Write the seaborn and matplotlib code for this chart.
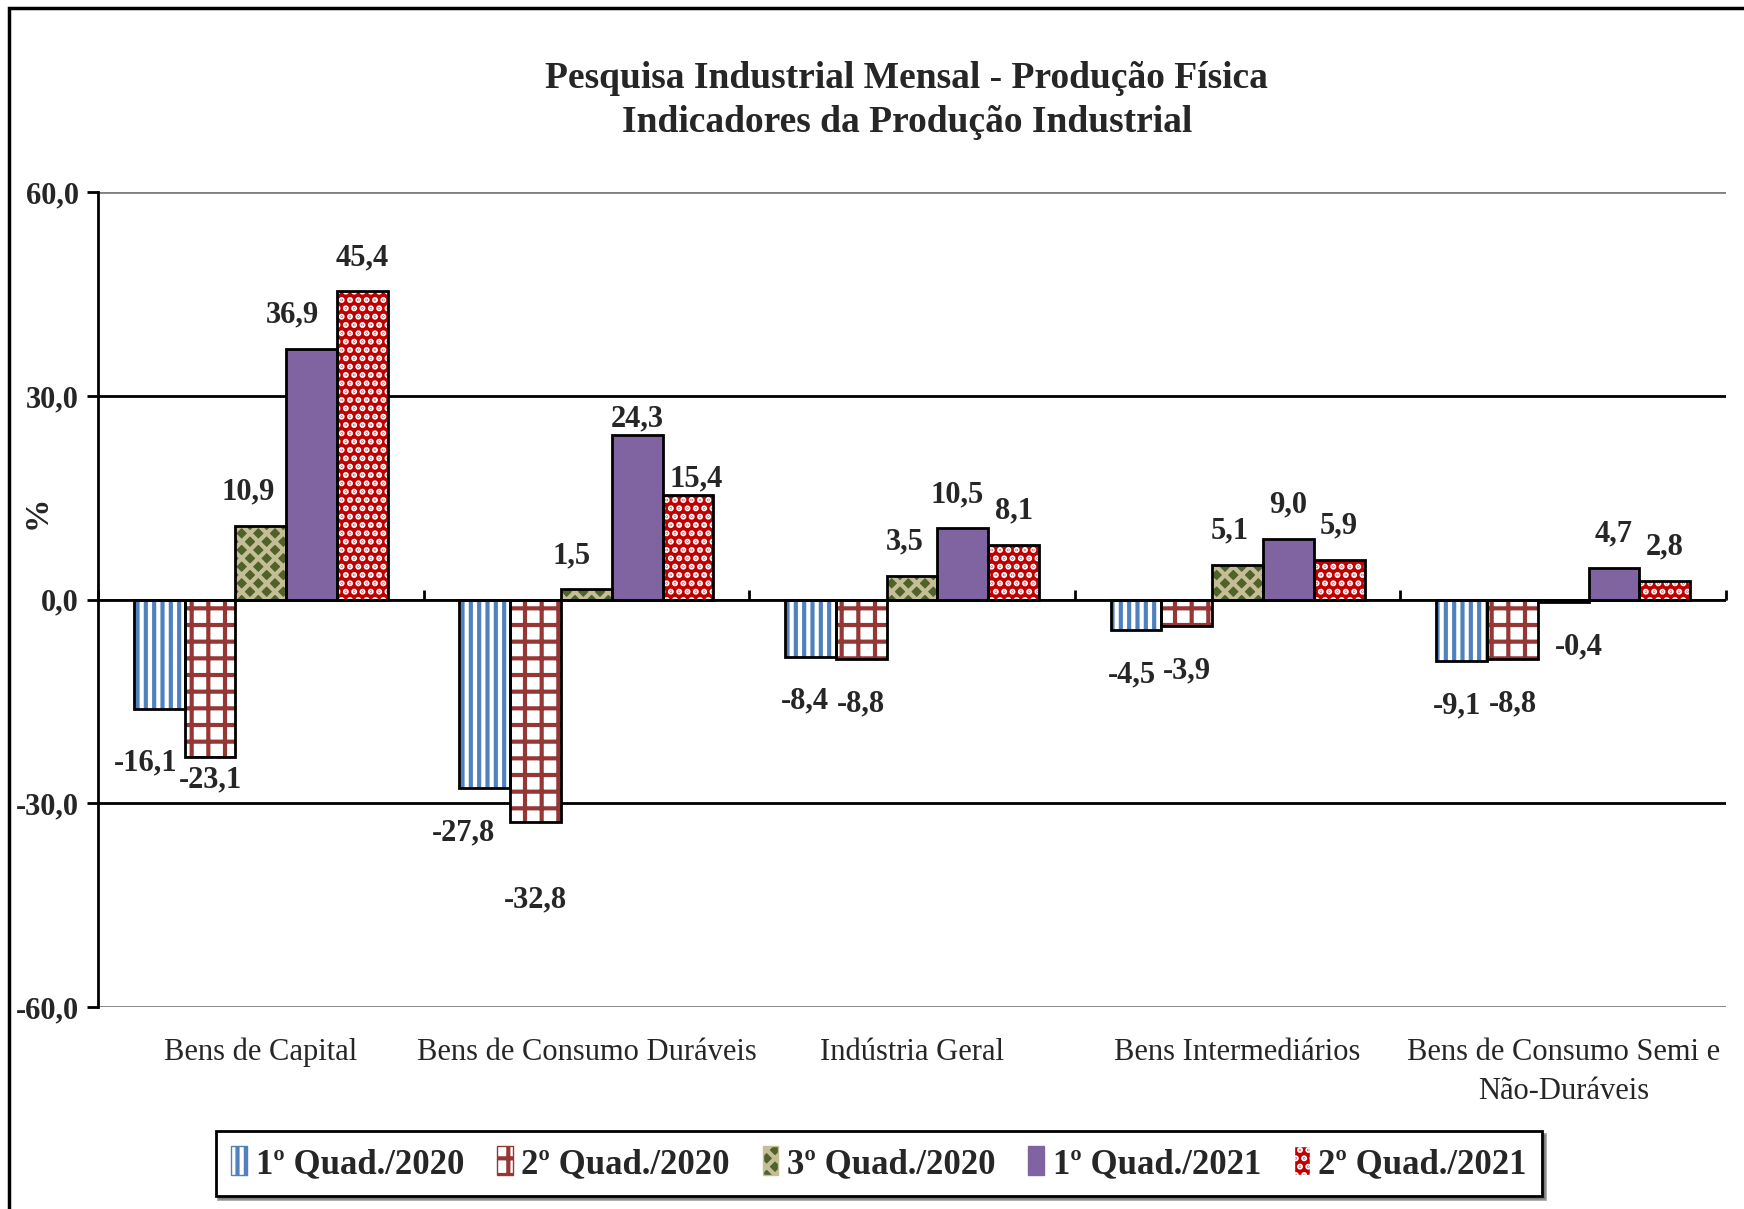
import matplotlib
matplotlib.use("Agg")
import matplotlib.pyplot as plt
import matplotlib.patches as mpatches
import seaborn as sns
import pandas as pd
import numpy as np

categories = ["Bens de Capital", "Bens de Consumo Duráveis", "Indústria Geral",
              "Bens Intermediários", "Bens de Consumo Semi e\nNão-Duráveis"]
series = ["1º Quad./2020", "2º Quad./2020", "3º Quad./2020", "1º Quad./2021", "2º Quad./2021"]
q1_2020 = [-16.1, -27.8, -8.4, -4.5, -9.1]
q2_2020 = [-23.1, -32.8, -8.8, -3.9, -8.8]
q3_2020 = [10.9, 1.5, 3.5, 5.1, -0.4]
q1_2021 = [36.9, 24.3, 10.5, 9.0, 4.7]
q2_2021 = [45.4, 15.4, 8.1, 5.9, 2.8]
yticks = [-60, -30, 0, 30, 60]

values = [q1_2020, q2_2020, q3_2020, q1_2021, q2_2021]
rows = []
for s, vals in zip(series, values):
    for c, v in zip(categories, vals):
        rows.append({"cat": c, "serie": s, "val": v})
df = pd.DataFrame(rows)

# style: (facecolor, hatch, hatchcolor)
styles = [("white", "||", "#4F81BD"),
          ("white", "+", "#953735"),
          ("#4F6228", "xx", "#C4BD97"),
          ("#8064A2", "", "#8064A2"),
          ("#C00000", "..", "white")]

# label nudges in points: (series, category) -> (dx, dy)
nudges = {(0, 0): (-10, -7), (1, 0): (0, 15), (0, 1): (-15, 0), (1, 1): (0, -24),
          (3, 0): (-14, 0), (2, 0): (-9, 0), (4, 1): (6, -13), (3, 1): (0, -13),
          (2, 1): (-11, 0), (2, 2): (-5, 0), (3, 2): (-4, 0), (2, 3): (-6, 0),
          (2, 4): (11, 0), (0, 2): (-4, 0), (0, 3): (-3, 0), (0, 4): (-3, 0)}

sns.set_theme(style="white")
plt.rcParams["font.family"] = ["Liberation Serif", "DejaVu Serif"]
plt.rcParams["hatch.linewidth"] = 3.0

fig = plt.figure(figsize=(17.44, 12.09), dpi=100)
ax = fig.add_axes([0.0562, 0.167, 0.9335, 0.674])

sns.barplot(data=df, x="cat", y="val", hue="serie", order=categories, hue_order=series,
            width=0.78, ax=ax, legend=False, errorbar=None, saturation=1)

for ci, cont in enumerate(ax.containers):
    fc, h, hc = styles[ci]
    for p in cont.patches:
        p.set_facecolor(fc)
        p.set_hatch(h)
        p.set_edgecolor(hc)
        p.set_linewidth(0)
        outline = mpatches.Rectangle(p.get_xy(), p.get_width(), p.get_height(),
                                     facecolor="none", edgecolor="black", lw=2, zorder=3)
        ax.add_patch(outline)
    for ki, (p, v) in enumerate(zip(cont.patches, values[ci])):
        xc = p.get_x() + p.get_width() / 2
        txt = f"{v:.1f}".replace(".", ",")
        dx, dy = nudges.get((ci, ki), (0, 0))
        if v >= 0:
            ax.annotate(txt, (xc, v), xytext=(dx, 14 + dy), textcoords="offset points",
                        ha="center", va="bottom", fontsize=22, fontweight="bold", zorder=5)
        else:
            ax.annotate(txt, (xc, v), xytext=(dx, -32 + dy), textcoords="offset points",
                        ha="center", va="center", fontsize=22, fontweight="bold", zorder=5)

ax.set_ylim(-60, 60)
ax.set_xlim(-0.5, len(categories) - 0.5)
ax.set_yticks(yticks)
ax.set_yticklabels([f"{t:.1f}".replace(".", ",") for t in yticks], fontsize=22, fontweight="bold")
for t in yticks:
    col = "#808080" if abs(t) == 60 else "black"
    ax.axhline(t, color=col, lw=2, zorder=0 if t != 0 else 4)
for s in ["top", "right", "bottom"]:
    ax.spines[s].set_visible(False)
ax.spines["left"].set_color("black")
ax.spines["left"].set_linewidth(2)
ax.tick_params(axis="y", direction="out", length=8, width=2, color="black", left=True, pad=6)
ax.tick_params(axis="x", length=0, pad=22, labelsize=22)
for lab in ax.get_xticklabels():
    lab.set_linespacing(1.45)
ax.set_xlabel("")
ax.set_ylabel("%", fontsize=24, fontweight="bold")
ax.yaxis.set_label_coords(-0.028, 0.607)

# category boundary ticks on the zero line
sec = ax.secondary_xaxis(0.5)
sec.set_xticks(np.arange(len(categories) + 1) - 0.5)
sec.set_xticklabels([])
sec.spines["bottom"].set_visible(False)
sec.tick_params(direction="out", length=7, width=2, color="black")

fig.text(0.52, 0.917, "Pesquisa Industrial Mensal - Produção Física\nIndicadores da Produção Industrial",
         ha="center", va="center", fontsize=27, fontweight="bold", linespacing=1.35)

handles = [mpatches.Patch(facecolor=styles[i][0], hatch=styles[i][1], edgecolor=styles[i][2],
                          label=series[i]) for i in range(5)]
leg = fig.legend(handles=handles, loc="center", bbox_to_anchor=(0.504, 0.0375), ncol=5,
                 frameon=True, prop={"weight": "bold", "size": 25},
                 handlelength=0.45, handleheight=0.9, handletextpad=0.25, columnspacing=0.95,
                 fancybox=False, shadow=True, borderpad=0.45)
leg.get_frame().set_edgecolor("black")
leg.get_frame().set_linewidth(2)

fig.patches.append(mpatches.Rectangle((0.005, -0.01), 1.1, 1.003, transform=fig.transFigure,
                                      fill=False, edgecolor="black", lw=2.5))

fig.savefig("out.png", dpi=100)
